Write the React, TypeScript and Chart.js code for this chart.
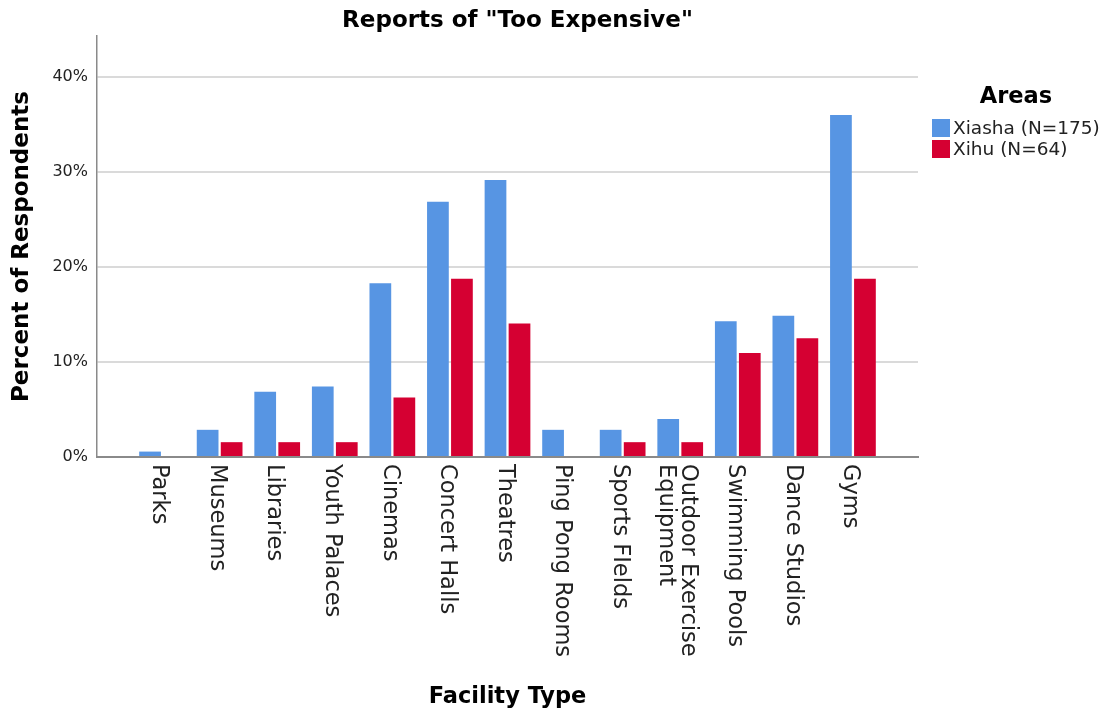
import React, { useEffect, useRef } from "react";
import { Chart, registerables } from "chart.js";

Chart.register(...registerables);

const chartTitle = 'Reports of "Too Expensive"';
const xAxisTitle = "Facility Type";
const yAxisTitle = "Percent of Respondents";
const legendTitle = "Areas";

const categories: (string | string[])[] = [
  "Parks",
  "Museums",
  "Libraries",
  "Youth Palaces",
  "Cinemas",
  "Concert Halls",
  "Theatres",
  "Ping Pong Rooms",
  "Sports FIelds",
  ["Outdoor Exercise", "Equipment"],
  "Swimming Pools",
  "Dance Studios",
  "Gyms",
];

const seriesLabels = ["Xiasha (N=175)", "Xihu (N=64)"];
const seriesColors = ["#5795e3", "#d50032"];

const xiashaValues = [0.57, 2.86, 6.86, 7.43, 18.29, 26.86, 29.14, 2.86, 2.86, 4.0, 14.29, 14.86, 36.0];
const xihuValues = [0, 1.56, 1.56, 1.56, 6.25, 18.75, 14.06, 0, 1.56, 1.56, 10.94, 12.5, 18.75];

const yTickValues = [0, 10, 20, 30, 40];
const yMax = 44.3;
const xMin = -1.13;
const xMax = 13.13;

const FONT = '"DejaVu Sans", "Noto Sans", sans-serif';

const textPlugin = {
  id: "customText",
  afterDraw(chart: any) {
    const { ctx, chartArea } = chart;
    const xScale = chart.scales.x;
    ctx.save();

    // chart title
    ctx.fillStyle = "#000";
    ctx.font = `bold 23px ${FONT}`;
    ctx.textAlign = "center";
    ctx.textBaseline = "middle";
    ctx.fillText(chartTitle, (chartArea.left + chartArea.right) / 2 + 10, 21);

    // rotated category labels (reading top to bottom)
    ctx.font = `22.5px ${FONT}`;
    ctx.fillStyle = "#222";
    xScale.ticks.forEach((t: any) => {
      const label = categories[t.value];
      if (label === undefined) return;
      const lines = Array.isArray(label) ? label : [label];
      const px = xScale.getPixelForValue(t.value);
      ctx.save();
      ctx.translate(px - 3, chartArea.bottom + 7);
      ctx.rotate(Math.PI / 2);
      ctx.textAlign = "left";
      ctx.textBaseline = "middle";
      const lh = 22;
      lines.forEach((ln: string, j: number) => {
        ctx.fillText(ln, 0, (j - (lines.length - 1) / 2) * lh);
      });
      ctx.restore();
    });

    // legend
    const lx = chartArea.right + 14;
    ctx.fillStyle = "#000";
    ctx.font = `bold 22.5px ${FONT}`;
    ctx.textAlign = "center";
    ctx.textBaseline = "middle";
    ctx.fillText(legendTitle, chartArea.right + 98, 97);
    ctx.font = `18.5px ${FONT}`;
    ctx.textAlign = "left";
    chart.data.datasets.forEach((ds: any, i: number) => {
      const cy = 128 + i * 21;
      ctx.fillStyle = ds.backgroundColor;
      ctx.fillRect(lx, cy - 9, 18, 18);
      ctx.fillStyle = "#222";
      ctx.fillText(ds.label, lx + 21, cy + 1.5);
    });
    ctx.restore();
  },
};

export default function App() {
  const ref = useRef<HTMLCanvasElement>(null);

  useEffect(() => {
    Chart.defaults.font.family = FONT;
    const chart = new Chart(ref.current!, {
      type: "bar",
      data: {
        datasets: [
          {
            label: seriesLabels[0],
            data: xiashaValues.map((v, i) => ({ x: i, y: v })),
            backgroundColor: seriesColors[0],
            borderWidth: 0,
          },
          {
            label: seriesLabels[1],
            data: xihuValues.map((v, i) => ({ x: i, y: v })),
            backgroundColor: seriesColors[1],
            borderWidth: 0,
          },
        ],
      },
      options: {
        animation: false,
        responsive: true,
        maintainAspectRatio: false,
        categoryPercentage: 0.834,
        barPercentage: 0.905,
        layout: { padding: { top: 36, right: 186, left: 0, bottom: 0 } },
        plugins: {
          legend: { display: false },
          title: { display: false },
          tooltip: { enabled: false },
        },
        scales: {
          x: {
            type: "linear",
            min: xMin,
            max: xMax,
            offset: false,
            grid: { display: false, offset: false },
            border: { display: true, color: "#8a8a8a", width: 2 },
            ticks: { display: false },
            afterBuildTicks: (axis: any) => {
              axis.ticks = categories.map((_, i) => ({ value: i }));
            },
            afterFit: (s: any) => {
              s.height = 256;
            },
            title: {
              display: true,
              text: xAxisTitle,
              color: "#000",
              font: { size: 22.5, weight: "bold", family: FONT },
              padding: { top: 0, bottom: 2 },
            },
          },
          y: {
            type: "linear",
            min: 0,
            max: yMax,
            afterBuildTicks: (axis: any) => {
              axis.ticks = yTickValues.map((v) => ({ value: v }));
            },
            afterFit: (s: any) => {
              s.width = 97;
            },
            grid: { color: "#dadada", lineWidth: 2, drawTicks: false },
            border: { display: true, color: "#8a8a8a", width: 1.5 },
            ticks: {
              padding: 9,
              color: "#222",
              font: { size: 16, family: FONT },
              callback: (v: any) => `${v}%`,
            },
            title: {
              display: true,
              text: yAxisTitle,
              color: "#000",
              font: { size: 23, weight: "bold", family: FONT },
              padding: { top: 8, bottom: 0 },
            },
          },
        },
      },
      plugins: [textPlugin],
    });
    return () => chart.destroy();
  }, []);

  return (
    <div
      style={{
        position: "fixed",
        left: 0,
        top: 0,
        width: 1104,
        height: 713,
        background: "#fff",
      }}
    >
      <canvas ref={ref} />
    </div>
  );
}
